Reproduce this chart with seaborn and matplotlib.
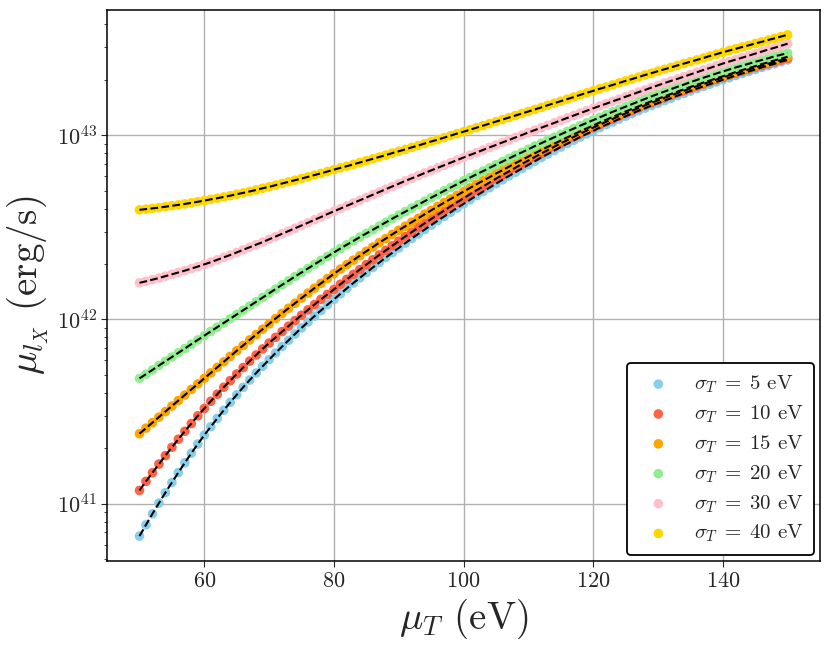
import numpy as np
import seaborn as sns
import matplotlib
matplotlib.use("Agg")
import matplotlib.pyplot as plt

# mean temperature grid (eV)
mu_t = np.arange(50, 151)

# log10 of mean luminosity (erg/s)
log_l_5 = [
    40.824, 40.885, 40.945, 41.003, 41.060, 41.115, 41.169, 41.222, 41.274, 41.324,
    41.372, 41.418, 41.463, 41.507, 41.550, 41.591, 41.632, 41.671, 41.709, 41.746,
    41.782, 41.818, 41.853, 41.887, 41.921, 41.954, 41.986, 42.018, 42.049, 42.080,
    42.109, 42.139, 42.169, 42.198, 42.226, 42.254, 42.282, 42.309, 42.336, 42.362,
    42.388, 42.414, 42.439, 42.464, 42.488, 42.512, 42.536, 42.559, 42.582, 42.605,
    42.627, 42.650, 42.672, 42.694, 42.715, 42.737, 42.758, 42.779, 42.799, 42.819,
    42.839, 42.859, 42.879, 42.898, 42.917, 42.936, 42.954, 42.972, 42.990, 43.007,
    43.024, 43.041, 43.057, 43.072, 43.088, 43.103, 43.118, 43.133, 43.147, 43.161,
    43.174, 43.188, 43.201, 43.215, 43.227, 43.240, 43.253, 43.265, 43.277, 43.289,
    43.301, 43.312, 43.324, 43.335, 43.346, 43.357, 43.368, 43.378, 43.388, 43.399, 43.409,
]
log_l_10 = [
    41.072, 41.121, 41.168, 41.215, 41.261, 41.306, 41.350, 41.393, 41.435, 41.477,
    41.517, 41.556, 41.594, 41.632, 41.668, 41.704, 41.739, 41.774, 41.807, 41.840,
    41.872, 41.903, 41.934, 41.964, 41.994, 42.023, 42.052, 42.081, 42.109, 42.136,
    42.163, 42.191, 42.218, 42.245, 42.271, 42.298, 42.324, 42.350, 42.375, 42.400,
    42.425, 42.450, 42.474, 42.498, 42.522, 42.545, 42.568, 42.591, 42.614, 42.636,
    42.658, 42.680, 42.701, 42.722, 42.743, 42.764, 42.784, 42.804, 42.824, 42.844,
    42.863, 42.882, 42.901, 42.919, 42.938, 42.956, 42.973, 42.991, 43.008, 43.025,
    43.041, 43.057, 43.073, 43.088, 43.104, 43.118, 43.133, 43.148, 43.162, 43.176,
    43.189, 43.203, 43.216, 43.229, 43.241, 43.254, 43.266, 43.278, 43.290, 43.302,
    43.313, 43.325, 43.336, 43.347, 43.357, 43.368, 43.378, 43.388, 43.398, 43.408, 43.417,
]
log_l_15 = [
    41.380, 41.410, 41.440, 41.470, 41.500, 41.530, 41.560, 41.590, 41.620, 41.650,
    41.680, 41.710, 41.740, 41.770, 41.800, 41.830, 41.859, 41.889, 41.918, 41.947,
    41.976, 42.005, 42.033, 42.061, 42.088, 42.116, 42.143, 42.170, 42.196, 42.222,
    42.248, 42.273, 42.298, 42.322, 42.346, 42.370, 42.393, 42.417, 42.439, 42.462,
    42.484, 42.506, 42.528, 42.549, 42.571, 42.592, 42.613, 42.634, 42.654, 42.674,
    42.694, 42.714, 42.734, 42.753, 42.772, 42.792, 42.810, 42.829, 42.848, 42.866,
    42.884, 42.902, 42.920, 42.937, 42.954, 42.971, 42.988, 43.005, 43.021, 43.037,
    43.053, 43.069, 43.084, 43.099, 43.114, 43.129, 43.143, 43.157, 43.171, 43.185,
    43.198, 43.211, 43.224, 43.237, 43.249, 43.262, 43.274, 43.286, 43.297, 43.309,
    43.320, 43.331, 43.343, 43.354, 43.364, 43.375, 43.386, 43.396, 43.406, 43.416, 43.426,
]
log_l_20 = [
    41.680, 41.703, 41.726, 41.750, 41.773, 41.796, 41.819, 41.842, 41.866, 41.889,
    41.912, 41.935, 41.958, 41.981, 42.004, 42.027, 42.050, 42.073, 42.096, 42.119,
    42.142, 42.165, 42.188, 42.210, 42.233, 42.255, 42.277, 42.299, 42.321, 42.342,
    42.364, 42.385, 42.406, 42.426, 42.447, 42.467, 42.487, 42.507, 42.527, 42.547,
    42.566, 42.585, 42.604, 42.623, 42.642, 42.661, 42.679, 42.698, 42.716, 42.734,
    42.752, 42.770, 42.788, 42.805, 42.823, 42.840, 42.857, 42.874, 42.891, 42.907,
    42.924, 42.941, 42.957, 42.973, 42.989, 43.005, 43.021, 43.036, 43.052, 43.067,
    43.082, 43.097, 43.112, 43.127, 43.141, 43.155, 43.169, 43.183, 43.197, 43.211,
    43.224, 43.237, 43.250, 43.263, 43.275, 43.288, 43.300, 43.312, 43.323, 43.335,
    43.346, 43.357, 43.368, 43.378, 43.388, 43.399, 43.408, 43.418, 43.428, 43.437, 43.446,
]
log_l_30 = [
    42.199, 42.207, 42.216, 42.225, 42.235, 42.245, 42.255, 42.265, 42.276, 42.287,
    42.299, 42.311, 42.324, 42.337, 42.350, 42.364, 42.378, 42.392, 42.406, 42.420,
    42.435, 42.450, 42.465, 42.480, 42.495, 42.510, 42.525, 42.541, 42.556, 42.572,
    42.587, 42.602, 42.617, 42.632, 42.647, 42.662, 42.677, 42.692, 42.707, 42.722,
    42.737, 42.752, 42.766, 42.780, 42.795, 42.809, 42.823, 42.837, 42.851, 42.865,
    42.879, 42.893, 42.906, 42.920, 42.934, 42.947, 42.961, 42.974, 42.988, 43.001,
    43.015, 43.028, 43.041, 43.054, 43.067, 43.081, 43.094, 43.107, 43.120, 43.133,
    43.146, 43.159, 43.171, 43.184, 43.196, 43.209, 43.221, 43.234, 43.246, 43.259,
    43.271, 43.283, 43.295, 43.306, 43.318, 43.330, 43.342, 43.354, 43.365, 43.377,
    43.389, 43.400, 43.411, 43.421, 43.432, 43.443, 43.454, 43.465, 43.475, 43.486, 43.497,
]
log_l_40 = [
    42.595, 42.599, 42.603, 42.607, 42.612, 42.617, 42.622, 42.627, 42.633, 42.639,
    42.645, 42.652, 42.658, 42.665, 42.672, 42.680, 42.687, 42.695, 42.703, 42.712,
    42.720, 42.729, 42.738, 42.747, 42.756, 42.765, 42.774, 42.784, 42.793, 42.803,
    42.813, 42.823, 42.832, 42.842, 42.852, 42.862, 42.872, 42.882, 42.892, 42.903,
    42.913, 42.923, 42.934, 42.944, 42.955, 42.966, 42.976, 42.987, 42.998, 43.009,
    43.019, 43.030, 43.041, 43.052, 43.063, 43.074, 43.085, 43.096, 43.107, 43.118,
    43.129, 43.140, 43.151, 43.163, 43.174, 43.185, 43.196, 43.207, 43.219, 43.230,
    43.241, 43.252, 43.262, 43.273, 43.284, 43.295, 43.305, 43.316, 43.327, 43.337,
    43.348, 43.358, 43.368, 43.379, 43.389, 43.399, 43.409, 43.419, 43.430, 43.440,
    43.450, 43.460, 43.469, 43.479, 43.488, 43.498, 43.507, 43.517, 43.526, 43.536, 43.545,
]

sigma_t = [5, 10, 15, 20, 30, 40]
series = [log_l_5, log_l_10, log_l_15, log_l_20, log_l_30, log_l_40]
colors = ["skyblue", "tomato", "orange", "lightgreen", "pink", "gold"]

sns.set_style("ticks")
plt.rcParams["font.family"] = "serif"
plt.rcParams["font.serif"] = ["cmr10", "DejaVu Serif"]
plt.rcParams["mathtext.fontset"] = "cm"
plt.rcParams["axes.formatter.use_mathtext"] = True
plt.rcParams["axes.unicode_minus"] = False

fig, ax = plt.subplots(figsize=(8.3, 6.51), dpi=100)
fig.subplots_adjust(left=0.129, right=0.988, top=0.985, bottom=0.138)

for sig, logs, col in zip(sigma_t, series, colors):
    lum = 10.0 ** np.array(logs)
    sns.scatterplot(x=mu_t, y=lum, color=col, s=48, edgecolor="none",
                    label=rf"$\sigma_T\;=\;{sig}$ eV", ax=ax, zorder=2)
    sns.lineplot(x=mu_t, y=lum, color="black", linestyle="--", linewidth=1.5,
                 ax=ax, zorder=3, legend=False)

ax.set_yscale("log")
ax.grid(True, which="major", color="#b0b0b0", linewidth=1.0)
ax.set_axisbelow(True)
for sp in ax.spines.values():
    sp.set_linewidth(1.1)
    sp.set_color("black")

ax.tick_params(axis="both", which="major", labelsize=16, direction="out", length=4)
ax.tick_params(axis="y", which="minor", direction="out", length=2.5)

ax.set_xlabel(r"$\mu_T$ (eV)", fontsize=28)
ax.set_ylabel(r"$\mu_{l_X}$ (erg/s)", fontsize=28)

leg = ax.legend(loc="lower right", fontsize=15, frameon=True, fancybox=True,
                edgecolor="black", framealpha=1.0, borderpad=0.5,
                labelspacing=0.4, handletextpad=0.7, borderaxespad=0.3,
                markerscale=1.0)
leg.get_frame().set_linewidth(1.3)

fig.savefig("out.png", dpi=100)
